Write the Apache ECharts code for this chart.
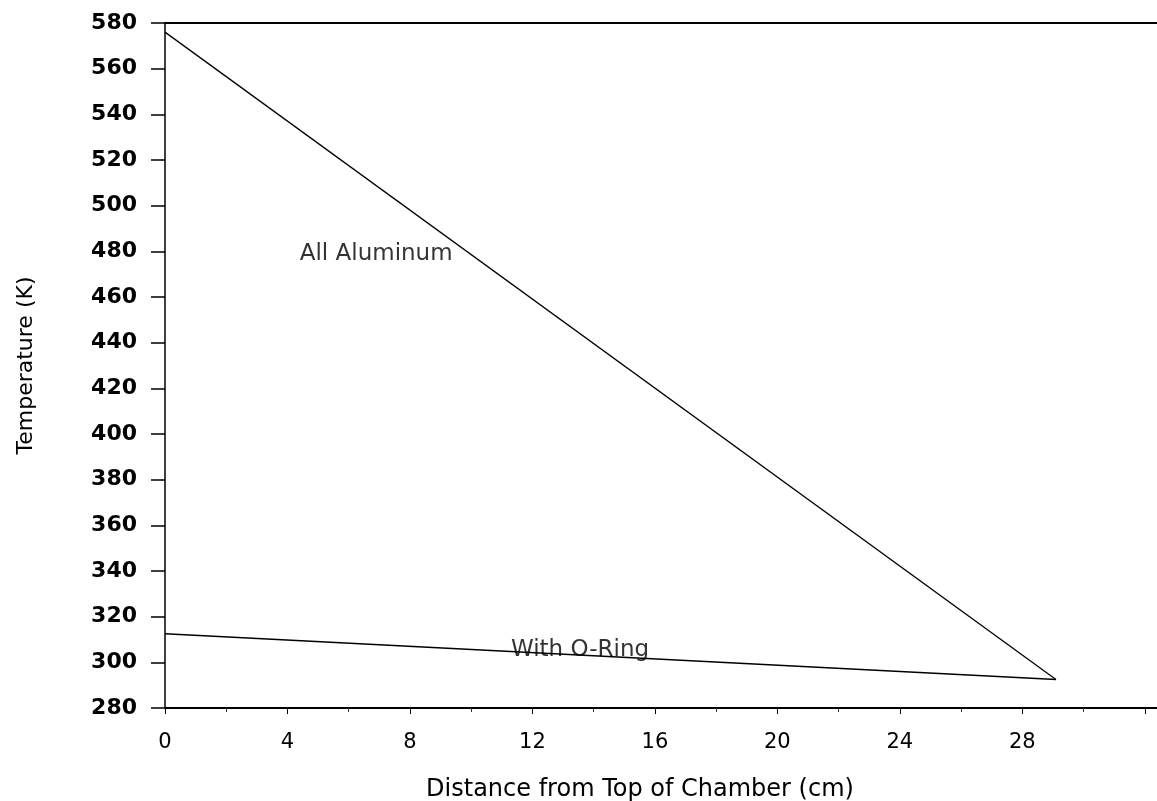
<!DOCTYPE html>
<html>
<head>
<meta charset="utf-8">
<script src="https://cdn.jsdelivr.net/npm/echarts@6/dist/echarts.min.js"></script>
<style>html,body{margin:0;padding:0;background:#fff;}#c{width:1157px;height:801px;}</style>
</head>
<body>
<div id="c"></div>
<script>
// Data
const allAluminumX = [0, 29.1];
const allAluminumY = [576, 292.5];
const oRingX = [0, 29.1];
const oRingY = [312.5, 292.5];
const xTicks = [0, 4, 8, 12, 16, 20, 24, 28];
const yTicks = [280, 300, 320, 340, 360, 380, 400, 420, 440, 460, 480, 500, 520, 540, 560, 580];
const seriesLabels = ['All Aluminum', 'With O-Ring'];
const labelPos = [[4.4, 479], [11.3, 305.5]];

const zip = (xs, ys) => xs.map((x, i) => [x, ys[i]]);
const FONT = 'DejaVu Sans';
const chart = echarts.init(document.getElementById('c'));
chart.setOption({
  animation: false,
  backgroundColor: '#fff',
  grid: { left: 165, top: 23, right: 0, bottom: 93, containLabel: false, outerBoundsMode: 'none' },
  xAxis: [{
    type: 'value', min: 0, max: 32.4, interval: 4,
    name: 'Distance from Top of Chamber (cm)', nameLocation: 'middle', nameGap: 70,
    nameTextStyle: { fontFamily: FONT, fontSize: 24, color: '#000', padding: [0, 42, 0, 0] },
    axisLine: { show: true, onZero: false, lineStyle: { color: '#000', width: 2 } },
    axisTick: { show: true, length: 6, lineStyle: { color: '#000', width: 1 } },
    minorTick: { show: true, splitNumber: 2, length: 4, lineStyle: { color: '#333' } },
    axisLabel: { fontFamily: FONT, fontSize: 21, color: '#000', margin: 24,
      formatter: v => xTicks.includes(v) ? String(v) : '' },
    splitLine: { show: false }
  }, {
    type: 'value', position: 'top', min: 0, max: 32.4,
    axisLine: { show: true, lineStyle: { color: '#000', width: 2 } },
    axisTick: { show: false }, axisLabel: { show: false }, splitLine: { show: false }
  }],
  yAxis: {
    type: 'value', min: 280, max: 580, interval: 20,
    name: 'Temperature (K)', nameLocation: 'middle', nameGap: 128,
    nameTextStyle: { fontFamily: FONT, fontSize: 22, color: '#000' },
    axisLine: { show: true, lineStyle: { color: '#000', width: 1.5 } },
    axisTick: { show: true, length: 14, lineStyle: { color: '#000', width: 1.5 } },
    axisLabel: { fontFamily: FONT, fontSize: 22, color: '#000', fontWeight: 'bold', margin: 28,
      formatter: v => yTicks.includes(v) ? String(v) : '' },
    splitLine: { show: false }
  },
  series: [
    { type: 'line', name: seriesLabels[0], data: zip(allAluminumX, allAluminumY), showSymbol: false,
      lineStyle: { color: '#000', width: 1.3 } },
    { type: 'line', name: seriesLabels[1], data: zip(oRingX, oRingY), showSymbol: false,
      lineStyle: { color: '#000', width: 1.5 } },
    { type: 'scatter', symbolSize: 0, silent: true,
      data: labelPos.map((p, i) => ({ value: p, name: seriesLabels[i] })),
      label: { show: true, position: 'right', distance: 0, formatter: p => p.name,
        fontFamily: FONT, fontSize: 23, color: '#000' } }
  ]
});
</script>
</body>
</html>
